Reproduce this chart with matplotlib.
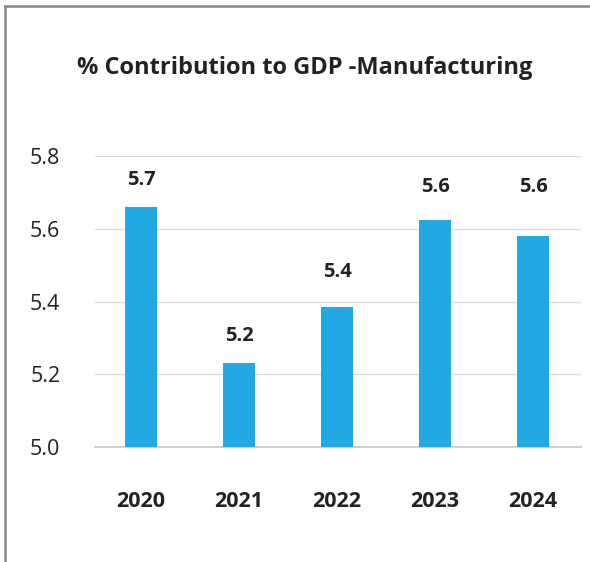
import matplotlib.pyplot as plt
import numpy as np

years = ['2020', '2021', '2022', '2023', '2024']
values = [5.66, 5.23, 5.385, 5.625, 5.58]
labels = ['5.7', '5.2', '5.4', '5.6', '5.6']
yticks = [5.0, 5.2, 5.4, 5.6, 5.8]

plt.rcParams['font.family'] = ['Open Sans', 'DejaVu Sans']

fig = plt.figure(figsize=(5.9, 5.62), dpi=100)
ax = fig.add_axes([0.161, 0.2046, 0.824, 0.5178])

x = np.arange(len(years))
ax.bar(x, [v - 5.0 for v in values], bottom=5.0, width=0.32, color='#22a9e1', zorder=3)
# label gaps above bars, in pixels
gaps = [27, 27, 35, 33, 49]
for xi, v, lab, g in zip(x, values, labels, gaps):
    ax.annotate(lab, (xi, v), xytext=(0, g), textcoords='offset pixels',
                ha='center', va='center', fontsize=14.5, fontweight='bold', color='#222222')

ax.set_ylim(5.0, 5.8)
ax.set_xlim(-0.47, 4.49)
ax.set_yticks(yticks)
ax.set_yticklabels([f'{t:.1f}' for t in yticks])
ax.set_xticks(x)
ax.set_xticklabels(years, fontweight='bold')
ax.tick_params(axis='y', length=0, pad=25, labelsize=15.5, labelcolor='#222222')
ax.tick_params(axis='x', length=0, pad=32, labelsize=15.5, labelcolor='#222222')
ax.grid(axis='y', color='#dddddd', linewidth=1, zorder=0)
for s in ['top', 'right', 'left']:
    ax.spines[s].set_visible(False)
ax.spines['bottom'].set_color('#d0d0d0')
ax.spines['bottom'].set_linewidth(1.5)

fig.text(0.516, 1 - 68 / 562, '% Contribution to GDP -Manufacturing', ha='center', va='center',
         fontsize=17, fontweight='bold', color='#222222')

# frame lines on left and top
fig.add_artist(plt.Line2D([5 / 590, 5 / 590], [0, 1 - 6 / 562], color='#888888', linewidth=1.8))
fig.add_artist(plt.Line2D([5 / 590, 1], [1 - 6 / 562, 1 - 6 / 562], color='#888888', linewidth=1.8))

fig.savefig('out.png', dpi=100)
